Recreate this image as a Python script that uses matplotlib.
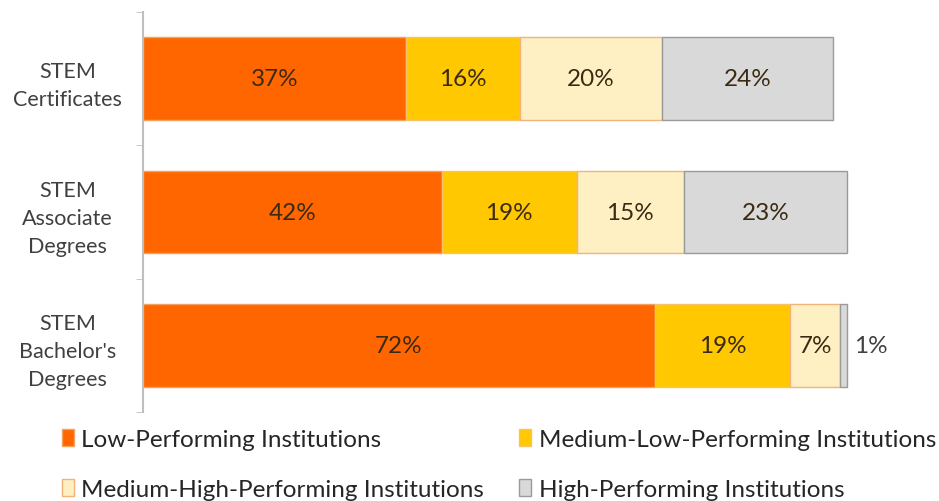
import matplotlib.pyplot as plt
import numpy as np

plt.rcParams['font.family'] = ['Lato', 'DejaVu Sans']

categories = ["STEM\nCertificates", "STEM\nAssociate\nDegrees", "STEM\nBachelor's\nDegrees"]
series = ["Low-Performing Institutions", "Medium-Low-Performing Institutions",
          "Medium-High-Performing Institutions", "High-Performing Institutions"]
low = [37, 42, 72]
med_low = [16, 19, 19]
med_high = [20, 15, 7]
high = [24, 23, 1]

colors = ["#FF6600", "#FFC800", "#FFF0C4", "#D9D9D9"]
edges = ["#F2A15E", "#F5C46A", "#F2B27A", "#9A9A9A"]

fig = plt.figure(figsize=(9.39, 5.02), dpi=100)
ax = fig.add_axes([0.152, 0.177, 0.758, 0.797])

y = np.arange(len(categories))
left = np.zeros(len(categories))
handles = []
for vals, name, c, e in zip([low, med_low, med_high, high], series, colors, edges):
    vals = np.array(vals)
    b = ax.barh(y, vals, left=left, height=0.62, color=c, edgecolor=e, linewidth=1, label=name)
    handles.append(b)
    for yi, l, v in zip(y, left, vals):
        if v >= 5:
            ax.text(l + v / 2, yi, f"{v}%", ha='center', va='center', fontsize=17.5, color='#3b2a12')
        else:
            ax.text(l + v + 1.0, yi, f"{v}%", ha='left', va='center', fontsize=17.5, color='#404040')
    left = left + vals

ax.set_xlim(0, 100)
ax.set_ylim(len(categories) - 0.5, -0.5)
ax.set_yticks(y)
ax.set_yticklabels(categories, fontsize=15.5, color='#404040', linespacing=1.5)
ax.tick_params(axis='y', which='major', length=0, pad=20)
ax.set_yticks(np.arange(-0.5, len(categories)), minor=True)
ax.tick_params(axis='y', which='minor', length=5, color='#BFBFBF', direction='out')
for lab in ax.get_yticklabels():
    lab.set_horizontalalignment('center')
    lab.set_x(-0.067)
ax.set_xticks([])
for s in ['top', 'right', 'bottom']:
    ax.spines[s].set_visible(False)
ax.spines['left'].set_color('#BFBFBF')
ax.spines['left'].set_linewidth(1.5)

order = [0, 2, 1, 3]
fig.legend([handles[i] for i in order], [series[i] for i in order], ncol=2,
           loc='upper left', bbox_to_anchor=(0.066, 0.143), frameon=False,
           fontsize=17.5, handlelength=0.5, handleheight=0.7, handletextpad=0.3,
           columnspacing=1.44, labelspacing=1.19, labelcolor='#262626',
           borderpad=0, borderaxespad=0)

fig.savefig("out.png", dpi=100)
